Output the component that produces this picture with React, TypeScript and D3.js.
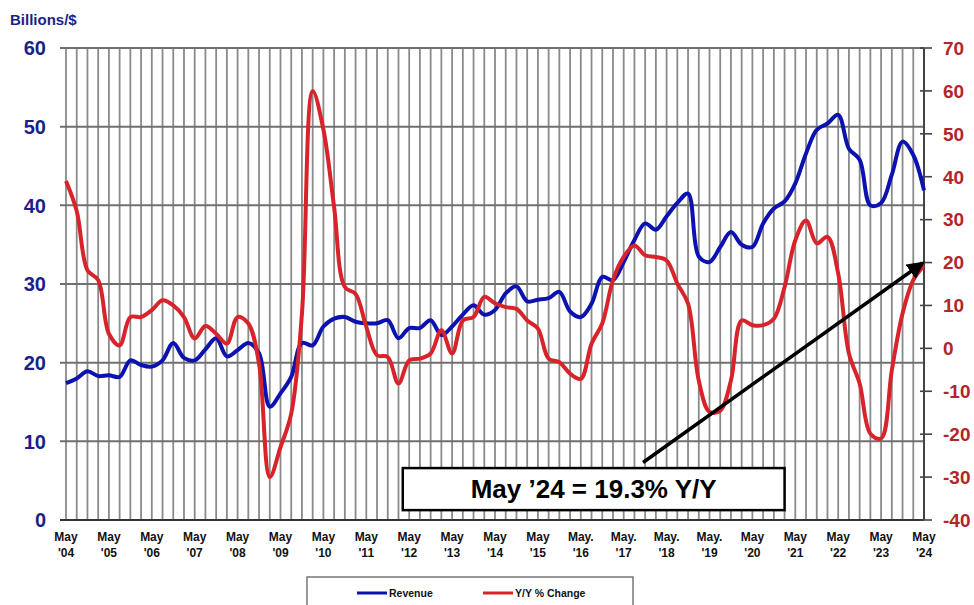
import React, { useEffect, useRef } from 'react';
import * as d3 from 'd3';

// quarterly readings, May '04 .. May '24
const revenue = [
	17.4, 18.0, 18.9, 18.3, 18.4, 18.2, 20.3, 19.7, 19.5, 20.3,
	22.5, 20.6, 20.3, 21.7, 23.1, 20.8, 21.6, 22.5, 21.2, 14.4,
	16.1, 18.2, 22.5, 22.2, 24.6, 25.6, 25.8, 25.2, 25.0, 25.0,
	25.4, 23.1, 24.4, 24.4, 25.4, 23.5, 24.6, 26.1, 27.3, 26.1,
	26.7, 28.8, 29.7, 27.8, 28.0, 28.2, 29.0, 26.5, 25.8, 27.5,
	30.9, 30.5, 32.8, 35.6, 37.7, 36.9, 38.6, 40.3, 41.5, 33.5,
	32.8, 34.7, 36.6, 35.0, 34.7, 37.7, 39.6, 40.5, 42.8, 46.6,
	49.6, 50.4, 51.5, 47.2, 45.8, 40.0, 40.3, 43.9, 48.1, 46.4,
	41.9,
];

const yoyChange = [
	39.0, 32.0, 18.2, 15.9, 3.4, 0.7, 7.3, 7.3, 8.9, 11.2,
	10.0, 7.3, 2.3, 5.2, 3.4, 1.1, 7.3, 5.8, -3.6, -30.0,
	-23.0, -15.2, 8.1, 60.0, 51.0, 32.9, 14.3, 12.7, 5.0, -1.6,
	-2.0, -8.2, -2.8, -2.4, -1.2, 4.2, -1.2, 6.5, 7.3, 12.0,
	10.5, 9.6, 9.2, 6.5, 4.6, -2.4, -3.2, -5.9, -7.1, 1.1,
	5.8, 15.9, 21.3, 24.0, 21.7, 21.3, 20.5, 15.1, 10.4, -7.5,
	-14.8, -14.5, -7.5, 6.5, 5.4, 5.4, 6.9, 14.3, 25.2, 29.8,
	24.5, 26.0, 17.4, -1.2, -8.2, -19.9, -21.0, -5.1, 8.1, 15.9,
	19.3,
];

const yearMonths = [
	'May', 'May', 'May', 'May', 'May', 'May', 'May', 'May', 'May', 'May', 'May',
	'May', 'May.', 'May.', 'May.', 'May.', 'May', 'May', 'May', 'May', 'May',
];
const yearLabels = [
	"'04", "'05", "'06", "'07", "'08", "'09", "'10", "'11", "'12", "'13", "'14",
	"'15", "'16", "'17", "'18", "'19", "'20", "'21", "'22", "'23", "'24",
];

const leftTicks = [0, 10, 20, 30, 40, 50, 60];
const rightTicks = [-40, -30, -20, -10, 0, 10, 20, 30, 40, 50, 60, 70];

const NAVY = '#1b1f8a';
const BLUE = '#0b12b0';
const RED = '#d8232a';
const DARKRED = '#b3242b';
const FONT = "Arial, 'Liberation Sans', sans-serif";

const App: React.FC = () => {
	const svgRef = useRef<SVGSVGElement>(null);

	useEffect(() => {
		if (!svgRef.current) return;
		const width = 974;
		const height = 605;
		const left = 66, right = 924, top = 48, bottom = 520;

		const x = d3.scaleLinear().domain([0, revenue.length - 1]).range([left, right]);
		const yL = d3.scaleLinear().domain([0, 60]).range([bottom, top]);
		const yR = d3.scaleLinear().domain([-40, 70]).range([bottom, top]);

		const svg = d3.select(svgRef.current).attr('width', width).attr('height', height);
		svg.selectAll('*').remove();

		svg.append('rect').attr('width', width).attr('height', height).attr('fill', '#fff');

		// vertical grid every quarter
		svg.append('g')
			.selectAll('line')
			.data(d3.range(revenue.length))
			.join('line')
			.attr('x1', d => x(d)).attr('x2', d => x(d))
			.attr('y1', top).attr('y2', bottom)
			.attr('stroke', '#8a8a8a').attr('stroke-width', 1.8);

		// horizontal grid
		svg.append('g')
			.selectAll('line')
			.data(leftTicks)
			.join('line')
			.attr('x1', left - 6).attr('x2', right)
			.attr('y1', d => yL(d)).attr('y2', d => yL(d))
			.attr('stroke', d => (d === 0 ? '#333' : '#707070')).attr('stroke-width', 2);

		// left axis labels
		svg.append('g')
			.selectAll('text')
			.data(leftTicks)
			.join('text')
			.attr('x', 46).attr('y', d => yL(d)).attr('dy', '0.36em')
			.attr('text-anchor', 'end')
			.attr('font-family', FONT).attr('font-weight', 'bold').attr('font-size', 20)
			.attr('fill', NAVY)
			.text(d => d);

		svg.append('text')
			.attr('x', 10).attr('y', 25)
			.attr('font-family', FONT).attr('font-weight', 'bold').attr('font-size', 15)
			.attr('fill', NAVY)
			.text('Billions/$');

		// right axis
		svg.append('line')
			.attr('x1', right).attr('x2', right).attr('y1', top).attr('y2', bottom)
			.attr('stroke', '#444').attr('stroke-width', 2);
		svg.append('g')
			.selectAll('line')
			.data(rightTicks)
			.join('line')
			.attr('x1', right - 4).attr('x2', right + 8)
			.attr('y1', d => yR(d)).attr('y2', d => yR(d))
			.attr('stroke', '#444').attr('stroke-width', 1.6);
		svg.append('g')
			.selectAll('text')
			.data(rightTicks)
			.join('text')
			.attr('x', 943).attr('y', d => yR(d)).attr('dy', '0.36em')
			.attr('font-family', FONT).attr('font-weight', 'bold').attr('font-size', 19)
			.attr('fill', DARKRED)
			.text(d => d);

		// x labels, one per year
		const xl = svg.append('g')
			.selectAll('text')
			.data(yearLabels)
			.join('text')
			.attr('text-anchor', 'middle')
			.attr('font-family', FONT).attr('font-weight', 'bold').attr('font-size', 12)
			.attr('fill', '#111');
		xl.append('tspan')
			.attr('x', (_, i) => x(i * 4)).attr('y', 541)
			.text((_, i) => yearMonths[i]);
		xl.append('tspan')
			.attr('x', (_, i) => x(i * 4)).attr('y', 557)
			.text(d => d);

		// series
		const lineL = d3.line<number>().x((_, i) => x(i)).y(d => yL(d)).curve(d3.curveCatmullRom.alpha(0.5));
		const lineR = d3.line<number>().x((_, i) => x(i)).y(d => yR(d)).curve(d3.curveCatmullRom.alpha(0.5));

		svg.append('path').datum(revenue)
			.attr('d', lineL).attr('fill', 'none')
			.attr('stroke', BLUE).attr('stroke-width', 4).attr('stroke-linejoin', 'round');
		svg.append('path').datum(yoyChange)
			.attr('d', lineR).attr('fill', 'none')
			.attr('stroke', RED).attr('stroke-width', 4).attr('stroke-linejoin', 'round');

		// annotation arrow + box
		const defs = svg.append('defs');
		defs.append('marker')
			.attr('id', 'arrowhead')
			.attr('viewBox', '0 0 10 10')
			.attr('refX', 8).attr('refY', 5)
			.attr('markerWidth', 5).attr('markerHeight', 5)
			.attr('orient', 'auto')
			.append('path').attr('d', 'M0,0 L10,5 L0,10 z').attr('fill', '#000');

		const last = yoyChange.length - 1;
		svg.append('line')
			.attr('x1', x(53.8)).attr('y1', yR(-26.6))
			.attr('x2', x(last) - 2).attr('y2', yR(20) + 1)
			.attr('stroke', '#000').attr('stroke-width', 3.5)
			.attr('marker-end', 'url(#arrowhead)');

		const bx0 = x(31.4), bx1 = x(67.0), by0 = yR(-27.9), by1 = yR(-37.7);
		svg.append('rect')
			.attr('x', bx0).attr('y', by0).attr('width', bx1 - bx0).attr('height', by1 - by0)
			.attr('fill', '#fff').attr('stroke', '#000').attr('stroke-width', 2.5);
		svg.append('text')
			.attr('x', (bx0 + bx1) / 2).attr('y', (by0 + by1) / 2).attr('dy', '0.36em')
			.attr('text-anchor', 'middle')
			.attr('font-family', FONT).attr('font-weight', 'bold').attr('font-size', 26)
			.attr('fill', '#000')
			.text('May ’24 = 19.3% Y/Y');

		// legend
		const legend = svg.append('g');
		legend.append('rect')
			.attr('x', 307).attr('y', 577).attr('width', 326).attr('height', 40)
			.attr('fill', '#fff').attr('stroke', '#555').attr('stroke-width', 1.2);
		const items = [
			{ name: 'Revenue', color: BLUE, x0: 357 },
			{ name: 'Y/Y % Change', color: RED, x0: 483 },
		];
		items.forEach(it => {
			legend.append('line')
				.attr('x1', it.x0).attr('x2', it.x0 + 30).attr('y1', 593).attr('y2', 593)
				.attr('stroke', it.color).attr('stroke-width', 3);
			legend.append('text')
				.attr('x', it.x0 + 32).attr('y', 593).attr('dy', '0.35em')
				.attr('font-family', FONT).attr('font-weight', 'bold').attr('font-size', 10.5)
				.attr('fill', '#111')
				.text(it.name);
		});
	}, []);

	return <svg ref={svgRef} style={{ position: 'absolute', left: 0, top: 0 }}></svg>;
};

export default App;
